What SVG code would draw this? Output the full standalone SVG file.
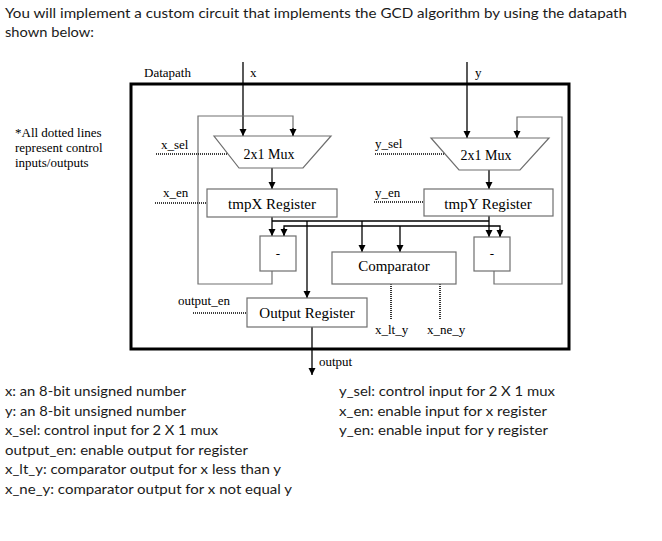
<svg xmlns="http://www.w3.org/2000/svg" width="662" height="541" viewBox="0 0 662 541">
<defs>
<marker id="arr" markerUnits="userSpaceOnUse" markerWidth="8" markerHeight="8" refX="7" refY="3.5" orient="auto">
<path d="M0,0 L7,3.5 L0,7 z" fill="#000"/>
</marker>
<style>
.sans{font-family:Lato,"Open Sans","Liberation Sans",sans-serif;font-size:13.5px;fill:#1a1a1a}
.ser{font-family:"Liberation Serif","Times New Roman",serif;fill:#000}
.big{font-size:15px}
.mux{font-size:14px}
.sm{font-size:13px}
.box{fill:#fff;stroke:#6e6e6e;stroke-width:1.2}
.w{fill:none;stroke:#000;stroke-width:1.3}
.fb{fill:none;stroke:#707070;stroke-width:1.2}
.dot{fill:none;stroke:#000;stroke-width:1.6;stroke-dasharray:1,1}
</style>
</defs>
<rect width="662" height="541" fill="#fff"/>

<g id="intro">
<text class="sans" x="5" y="18" textLength="622" lengthAdjust="spacingAndGlyphs">You will implement a custom circuit that implements the GCD algorithm by using the datapath</text>
<text class="sans" x="5" y="37" textLength="89" lengthAdjust="spacingAndGlyphs">shown below:</text>
</g>

<g id="note">
<text class="ser sm" x="15" y="137">*All dotted lines</text>
<text class="ser sm" x="15" y="152">represent control</text>
<text class="ser sm" x="15" y="167">inputs/outputs</text>
</g>

<g id="datapath">
<rect x="131" y="84" width="438" height="265" fill="none" stroke="#000" stroke-width="3"/>
<text class="ser sm" x="144" y="77">Datapath</text>
</g>

<g id="connectors">
<line class="w" x1="243" y1="62" x2="243" y2="136" marker-end="url(#arr)"/>
<line class="w" x1="467" y1="62" x2="467" y2="138" marker-end="url(#arr)"/>
<line class="w" x1="272" y1="168" x2="272" y2="189" marker-end="url(#arr)"/>
<line class="w" x1="489" y1="170" x2="489" y2="189" marker-end="url(#arr)"/>
<polyline class="fb" points="272,271 272,284 198,284 198,116 293,116 293,136"/>
<line class="w" x1="293" y1="128" x2="293" y2="136" marker-end="url(#arr)"/>
<polyline class="fb" points="494,271 494,284 562,284 562,117 517,117 517,138"/>
<line class="w" x1="517" y1="130" x2="517" y2="138" marker-end="url(#arr)"/>
<line class="w" x1="272" y1="217" x2="272" y2="236" marker-end="url(#arr)"/>
<line class="w" x1="272" y1="221" x2="489" y2="221"/>
<line class="w" x1="489" y1="216" x2="489" y2="237" marker-end="url(#arr)"/>
<polyline class="w" points="284,236 284,226 500,226 500,237"/>
<line class="w" x1="284" y1="228" x2="284" y2="236" marker-end="url(#arr)"/>
<line class="w" x1="500" y1="229" x2="500" y2="237" marker-end="url(#arr)"/>
<line class="w" x1="307" y1="221" x2="307" y2="298" marker-end="url(#arr)"/>
<line class="w" x1="362" y1="221" x2="362" y2="252" marker-end="url(#arr)"/>
<line class="w" x1="400" y1="226" x2="400" y2="252" marker-end="url(#arr)"/>
<line class="w" x1="312" y1="327" x2="312" y2="375" marker-end="url(#arr)"/>
<line class="dot" x1="156" y1="154" x2="229" y2="154"/>
<line class="dot" x1="155" y1="203" x2="207" y2="203"/>
<line class="dot" x1="375" y1="154" x2="444" y2="154"/>
<line class="dot" x1="374" y1="202" x2="424" y2="202"/>
<line class="dot" x1="193" y1="313" x2="247" y2="313"/>
<line class="dot" x1="391" y1="284" x2="391" y2="320"/>
<line class="dot" x1="440" y1="284" x2="440" y2="320"/>
</g>

<g id="labels">
<text class="ser sm" x="250" y="77">x</text>
<text class="ser sm" x="475" y="77">y</text>
<text class="ser sm" x="161" y="149">x_sel</text>
<text class="ser sm" x="163" y="197">x_en</text>
<text class="ser sm" x="375" y="148">y_sel</text>
<text class="ser sm" x="375" y="197">y_en</text>
<text class="ser sm" x="178" y="305">output_en</text>
<text class="ser sm" x="375" y="334">x_lt_y</text>
<text class="ser sm" x="427" y="334">x_ne_y</text>
<text class="ser sm" x="319" y="366">output</text>
</g>

<g id="mux-x">
<polygon class="box" points="214,136 331,136 303,168 239,168"/>
<text class="ser mux" x="269" y="159" text-anchor="middle">2x1 Mux</text>
</g>
<g id="mux-y">
<polygon class="box" points="431,138 549,138 520,170 459,170"/>
<text class="ser mux" x="486" y="160" text-anchor="middle">2x1 Mux</text>
</g>
<g id="reg-x">
<rect class="box" x="207" y="189" width="130" height="28"/>
<text class="ser big" x="272" y="209" text-anchor="middle">tmpX Register</text>
</g>
<g id="reg-y">
<rect class="box" x="424" y="189" width="129" height="27"/>
<text class="ser big" x="488" y="209" text-anchor="middle">tmpY Register</text>
</g>
<g id="sub-x">
<rect class="box" x="260" y="236" width="36" height="35"/>
<text class="ser sm" x="278" y="258" text-anchor="middle">-</text>
</g>
<g id="sub-y">
<rect class="box" x="474" y="237" width="36" height="34"/>
<text class="ser sm" x="492" y="258" text-anchor="middle">-</text>
</g>
<g id="comparator">
<rect class="box" x="332" y="252" width="124" height="32"/>
<text class="ser big" x="394" y="271" text-anchor="middle">Comparator</text>
</g>
<g id="output-reg">
<rect class="box" x="247" y="298" width="120" height="29"/>
<text class="ser big" x="307" y="318" text-anchor="middle">Output Register</text>
</g>

<g id="legend">
<text class="sans" x="5" y="396" textLength="181" lengthAdjust="spacingAndGlyphs">x: an 8-bit unsigned number</text>
<text class="sans" x="5" y="416" textLength="181" lengthAdjust="spacingAndGlyphs">y: an 8-bit unsigned number</text>
<text class="sans" x="5" y="435" textLength="213" lengthAdjust="spacingAndGlyphs">x_sel: control input for 2 X 1 mux</text>
<text class="sans" x="5" y="455" textLength="243" lengthAdjust="spacingAndGlyphs">output_en: enable output for register</text>
<text class="sans" x="5" y="474" textLength="276" lengthAdjust="spacingAndGlyphs">x_lt_y: comparator output for x less than y</text>
<text class="sans" x="5" y="494" textLength="287" lengthAdjust="spacingAndGlyphs">x_ne_y: comparator output for x not equal y</text>
<text class="sans" x="339" y="396" textLength="216" lengthAdjust="spacingAndGlyphs">y_sel: control input for 2 X 1 mux</text>
<text class="sans" x="339" y="416" textLength="208" lengthAdjust="spacingAndGlyphs">x_en: enable input for x register</text>
<text class="sans" x="339" y="435" textLength="209" lengthAdjust="spacingAndGlyphs">y_en: enable input for y register</text>
</g>
</svg>
